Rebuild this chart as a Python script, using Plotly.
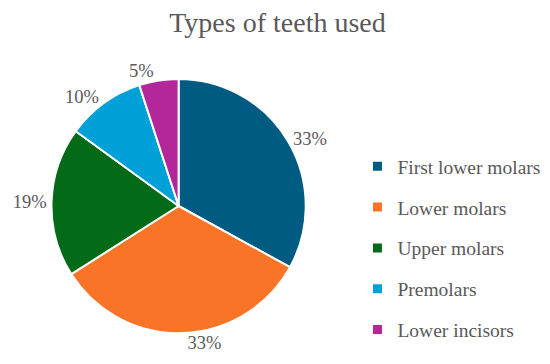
import plotly.graph_objects as go

title_text = "Types of teeth used"
categories = ["First lower molars", "Lower molars", "Upper molars", "Premolars", "Lower incisors"]
values = [33, 33, 19, 10, 5]
colors = ["#005b82", "#fa7427", "#036a17", "#00a0d8", "#b4279b"]

FONT = "Liberation Serif"
GRAY = "#595959"

W, H, T = 550, 364, 40
PH = H - T
cx, cy, r = 165, 198, 129
fig = go.Figure()
fig.add_trace(go.Pie(
    labels=categories, values=values, sort=False, direction="clockwise", rotation=0,
    marker=dict(colors=colors, line=dict(color="white", width=2)),
    textposition="outside", texttemplate="%{percent:.0%}",
    textfont=dict(family=FONT, size=18.5, color=GRAY),
    showlegend=False,
    domain=dict(x=[(cx - r)/W, (cx + r)/W],
                y=[1-(cy + r - T)/PH, 1-(cy - r - T)/PH]),
))
for i, (c, col) in enumerate(zip(categories, colors)):
    fig.add_trace(go.Scatter(
        x=[None], y=[None], mode="markers", name=c,
        marker=dict(symbol="square", size=9, color=col),
        legendgroup=f"g{i}", showlegend=True,
    ))

fig.update_layout(
    width=W, height=H,
    margin=dict(l=0, r=0, t=T, b=0),
    paper_bgcolor="white", plot_bgcolor="white",
    xaxis=dict(visible=False), yaxis=dict(visible=False),
    title=dict(text=title_text, x=0.49, xanchor="center", y=0.962, yanchor="middle",
               font=dict(family=FONT, size=28, color=GRAY)),
    legend=dict(x=0.630, xanchor="left", y=1-(240 - T)/PH, yanchor="middle",
                font=dict(family=FONT, size=19.5, color=GRAY),
                tracegroupgap=12.5, bgcolor="rgba(0,0,0,0)"),
)
fig.write_html("out.html")
